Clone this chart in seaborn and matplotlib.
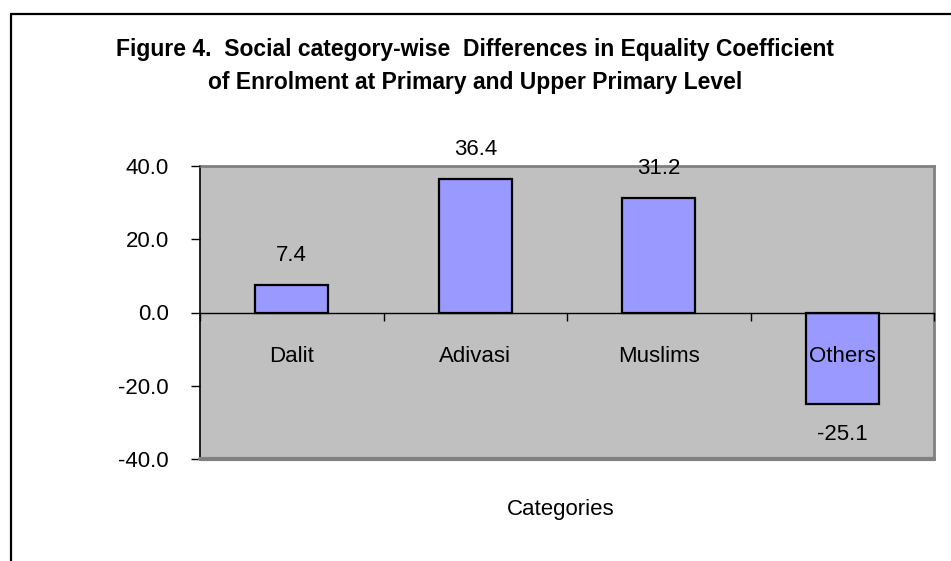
import matplotlib
matplotlib.use("Agg")
import matplotlib.pyplot as plt
import seaborn as sns
import pandas as pd
from matplotlib.lines import Line2D

categories = ["Dalit", "Adivasi", "Muslims", "Others"]
values = [7.4, 36.4, 31.2, -25.1]
yticks = [-40.0, -20.0, 0.0, 20.0, 40.0]
title_lines = ["Figure 4.  Social category-wise  Differences in Equality Coefficient",
               "of Enrolment at Primary and Upper Primary Level"]
xlabel = "Categories"

sns.set_theme(style="white")
plt.rcParams['font.family'] = ['Liberation Sans', 'DejaVu Sans']

W, H = 951, 561
fig = plt.figure(figsize=(W / 100, H / 100), dpi=100)
fig.patch.set_facecolor("white")

L, R, T, B = 200, 934, 166, 459
ax = fig.add_axes([L / W, 1 - B / H, (R - L) / W, (B - T) / H])
ax.set_facecolor("#C0C0C0")
ax.set_axisbelow(False)

df = pd.DataFrame({"cat": categories, "val": values})
sns.barplot(data=df, x="cat", y="val", color="#9999FF", saturation=1,
            edgecolor="black", linewidth=1.6, width=0.40, ax=ax)

ax.set_xlim(-0.5, len(categories) - 0.5)
ax.set_ylim(-40, 40)
ax.set_yticks(yticks)
ax.set_yticklabels([f"{v:.1f}" for v in yticks])

fs = 16
for c in ax.containers:
    ax.bar_label(c, fmt="%.1f", padding=14, fontsize=fs, color="black")

# spines
ax.spines["bottom"].set_position(("data", 0))
ax.spines["bottom"].set_color("black")
ax.spines["bottom"].set_linewidth(1.0)
ax.spines["left"].set_color("black")
ax.spines["left"].set_linewidth(1.2)
for s in ["top", "right"]:
    ax.spines[s].set_color("#808080")
    ax.spines[s].set_linewidth(2.0)
ax.axhline(-40, color="#808080", lw=3.0, clip_on=False, zorder=3)

ax.tick_params(axis="y", which="major", direction="out", length=6.5, width=1.0,
               color="black", pad=16, labelsize=fs, labelcolor="black", left=True)
ax.tick_params(axis="x", which="major", length=0, pad=24, labelsize=fs,
               labelcolor="black", bottom=True)
ax.set_xticks([i - 0.5 for i in range(len(categories) + 1)], minor=True)
ax.tick_params(axis="x", which="minor", direction="out", length=6, width=1.0,
               color="black", bottom=True)
ax.set_xlabel("")
ax.set_ylabel("")

fig.text(561 / W, 1 - 510 / H, xlabel, ha="center", va="center",
         fontsize=fs, color="black")

fig.text(0.5, 1 - 49 / H, title_lines[0], ha="center", va="center",
         fontsize=16.5, fontweight="bold", color="black")
fig.text(0.5, 1 - 83 / H, title_lines[1], ha="center", va="center",
         fontsize=16.5, fontweight="bold", color="black")

# outer chart frame (left and top edges visible)
fig.add_artist(Line2D([11 / W, 11 / W], [0, 1 - 14 / H], color="black", lw=1.6,
                      transform=fig.transFigure))
fig.add_artist(Line2D([11 / W, 1], [1 - 14 / H, 1 - 14 / H], color="black", lw=1.6,
                      transform=fig.transFigure))

fig.savefig("out.png", dpi=100, facecolor="white")
